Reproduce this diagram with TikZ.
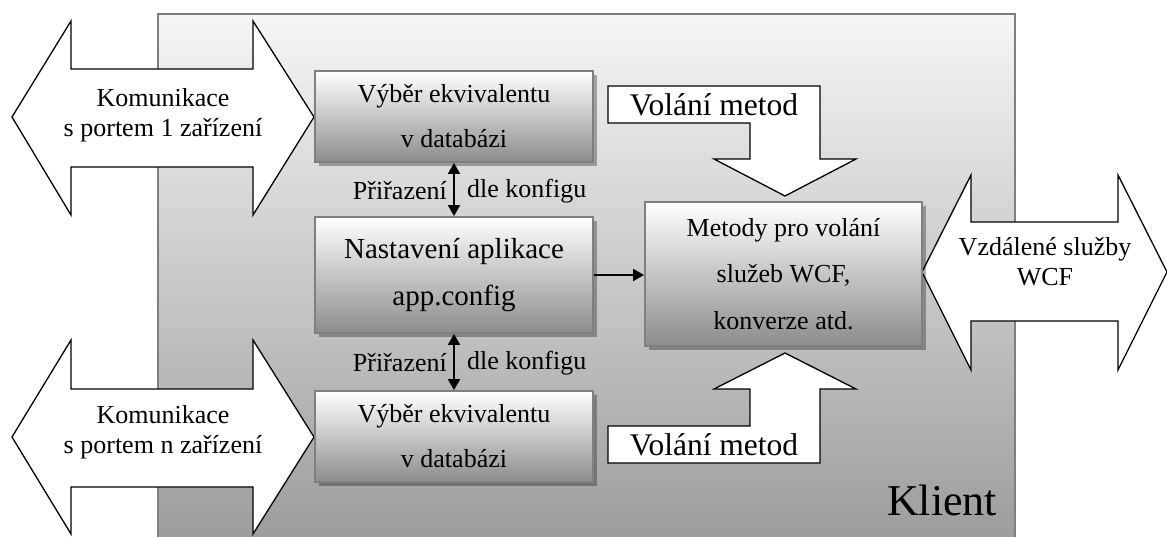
\documentclass[tikz,border=0pt]{standalone}
\usepackage{fontspec}
\setmainfont{Liberation Serif}
\usetikzlibrary{arrows.meta,shadows}
\definecolor{frame}{HTML}{7F7F7F}
\definecolor{boxbottom}{HTML}{8C8C8C}
\definecolor{clienttop}{HTML}{F6F6F6}
\definecolor{clientbottom}{HTML}{999999}
\begin{document}
\begin{tikzpicture}[x=1pt,y=-1pt,
  blockarrow/.style={draw=black, fill=white, line width=1.3pt, line join=miter},
  procbox/.style={draw=frame, line width=1.8pt, top color=white, bottom color=boxbottom,
    drop shadow={shadow xshift=3.5pt, shadow yshift=-3.5pt, fill=black, opacity=0.3},
    align=center, inner sep=0pt},
  tipA/.tip={Triangle[length=11pt,width=12pt]},
  link/.style={line width=1.8pt, -tipA},
  dlink/.style={line width=1.8pt, tipA-tipA},
  lbl/.style={font=\fontsize{26}{30}\selectfont, inner sep=0pt, align=center},
  calltext/.style={font=\fontsize{31.5}{36}\selectfont, inner sep=0pt}]
\useasboundingbox (0,0) rectangle (1167,536);

% client area (its lower edge lies below the page)
\begin{scope}
  \clip (0,0) rectangle (1167,536);
  \path[draw=frame, line width=1.8pt, top color=clienttop, bottom color=clientbottom]
    (158,14) rectangle (1015,560);
\end{scope}

% device communication arrows
\path[blockarrow] (12,117) -- (71,21) -- (71,69) -- (253,69) -- (253,21) -- (314,117)
  -- (253,215) -- (253,167) -- (71,167) -- (71,215) -- cycle;
\node[lbl] (port1) at (163,115) {Komunikace\\s portem 1 zařízení};

\path[blockarrow] (12,437) -- (71,340) -- (71,389) -- (253,389) -- (253,340) -- (314,437)
  -- (253,534) -- (253,487) -- (71,487) -- (71,534) -- cycle;
\node[lbl] (portn) at (163,432) {Komunikace\\s portem n zařízení};

% remote WCF services arrow
\path[blockarrow] (922,272) -- (971,175) -- (971,222) -- (1118,222) -- (1118,175) -- (1167,272)
  -- (1118,370) -- (1118,321) -- (971,321) -- (971,370) -- cycle;
\node[lbl] (remote) at (1045,262) {Vzdálené služby\\WCF};

% processing blocks
\node[procbox, minimum width=278pt, minimum height=91pt, font=\fontsize{26}{45}\selectfont]
  (db1) at (454,116.5) {Výběr ekvivalentu\\v databázi};
\node[procbox, minimum width=278pt, minimum height=116pt, font=\fontsize{29}{47}\selectfont]
  (cfg) at (454,275) {Nastavení aplikace\\app.config};
\node[procbox, minimum width=278pt, minimum height=91pt, font=\fontsize{26}{45}\selectfont]
  (db2) at (454,436.5) {Výběr ekvivalentu\\v databázi};
\node[procbox, minimum width=277pt, minimum height=144pt, font=\fontsize{26}{46.5}\selectfont]
  (wcf) at (783.5,274) {Metody pro volání\\služeb WCF,\\konverze atd.};

% connections
\draw[dlink] (db1.south) -- (cfg.north);
\draw[dlink] (cfg.south) -- (db2.north);
\draw[link] (cfg.east) -- (wcf.west |- cfg.east);

\node[lbl, anchor=east] (as1) at (447,191) {Přiřazení};
\node[lbl, anchor=west] (cf1) at (467,191) {dle konfigu};
\node[lbl, anchor=east] (as2) at (447,363) {Přiřazení};
\node[lbl, anchor=west] (cf2) at (467,363) {dle konfigu};

% method call arrows
\path[blockarrow] (608,86) -- (820,86) -- (820,159) -- (856,159) -- (785,196) -- (714,159)
  -- (750,159) -- (750,123) -- (608,123) -- cycle;
\node[calltext] (call1) at (714,105) {Volání metod};

\path[blockarrow] (785,353) -- (856,389) -- (820,389) -- (820,463) -- (608,463) -- (608,426)
  -- (750,426) -- (750,389) -- (714,389) -- cycle;
\node[calltext] (call2) at (714,445) {Volání metod};

\node[font=\fontsize{44}{50}\selectfont, anchor=base west, inner sep=0pt] (klient) at (887,515) {Klient};
\end{tikzpicture}
\end{document}
